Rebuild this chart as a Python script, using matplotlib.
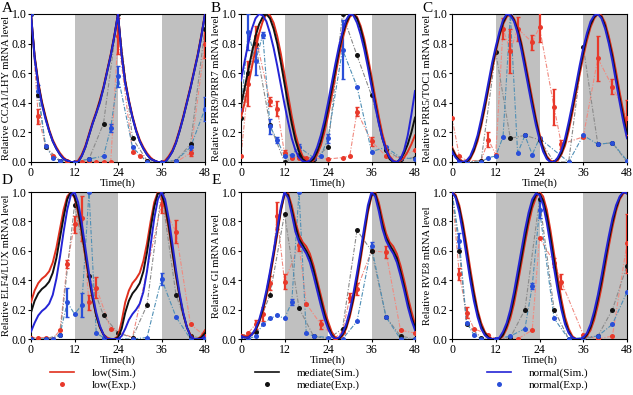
import numpy as np
import matplotlib
matplotlib.use("Agg")
import matplotlib.pyplot as plt
from matplotlib.lines import Line2D

plt.rcParams['font.family'] = ['Liberation Serif', 'DejaVu Serif']

hours = list(range(49))
gene_labels = ["Relative CCA1/LHY mRNA level", "Relative PRR9/PRR7 mRNA level",
               "Relative PRR5/TOC1 mRNA level", "Relative ELF4/LUX mRNA level",
               "Relative GI mRNA level", "Relative RVE8 mRNA level"]
panel_letters = ["A", "B", "C", "D", "E", ""]
x_ticks = [0, 12, 24, 36, 48]
y_ticks = [0.0, 0.2, 0.4, 0.6, 0.8, 1.0]
series_names = ["low", "mediate", "normal"]

# ---------------- simulated curves (hourly) ----------------
simA_low = [1.0,0.72,0.54,0.41,0.31,0.22,0.15,0.1,0.06,0.03,0.01,0.0,0.0,0.01,0.05,0.11,0.19,0.27,0.34,0.42,0.51,0.62,0.73,0.86,1.0,0.74,0.55,0.42,0.31,0.22,0.15,0.1,0.06,0.03,0.01,0.0,0.0,0.01,0.04,0.08,0.14,0.22,0.31,0.41,0.51,0.62,0.73,0.86,1.0]
simA_med = [1.0,0.71,0.53,0.4,0.3,0.21,0.14,0.09,0.05,0.02,0.01,0.0,0.0,0.0,0.04,0.1,0.18,0.26,0.33,0.41,0.5,0.61,0.72,0.85,1.0,0.73,0.54,0.41,0.3,0.21,0.14,0.09,0.05,0.02,0.01,0.0,0.0,0.0,0.03,0.07,0.13,0.21,0.3,0.4,0.5,0.61,0.72,0.85,1.0]
simA_norm = [1.0,0.7,0.52,0.39,0.29,0.21,0.14,0.09,0.05,0.02,0.01,0.0,0.0,0.0,0.04,0.1,0.18,0.26,0.33,0.4,0.5,0.61,0.72,0.85,1.0,0.72,0.53,0.41,0.3,0.21,0.14,0.09,0.05,0.02,0.01,0.0,0.0,0.0,0.03,0.07,0.13,0.21,0.3,0.4,0.5,0.61,0.72,0.85,1.0]

simB_low = [0.30,0.40,0.52,0.64,0.76,0.87,0.95,1.0,0.99,0.94,0.85,0.73,0.59,0.45,0.31,0.19,0.1,0.04,0.01,0.0,0.01,0.05,0.11,0.2,0.31,0.44,0.58,0.71,0.83,0.92,0.98,1.0,0.98,0.92,0.83,0.71,0.58,0.44,0.31,0.19,0.1,0.04,0.01,0.0,0.01,0.03,0.07,0.12,0.18]
simB_med = [0.38,0.5,0.62,0.74,0.85,0.93,0.98,1.0,0.97,0.9,0.8,0.67,0.53,0.39,0.26,0.15,0.07,0.02,0.0,0.0,0.02,0.07,0.14,0.24,0.36,0.49,0.62,0.75,0.86,0.94,0.99,1.0,0.97,0.9,0.8,0.67,0.54,0.4,0.27,0.16,0.08,0.02,0.0,0.0,0.02,0.06,0.12,0.2,0.3]
simB_norm = [0.55,0.68,0.80,0.9,0.97,1.0,0.99,0.95,0.87,0.77,0.65,0.52,0.39,0.27,0.16,0.08,0.03,0.005,0.0,0.01,0.04,0.1,0.18,0.28,0.40,0.53,0.66,0.78,0.88,0.96,1.0,0.99,0.94,0.86,0.76,0.64,0.51,0.38,0.26,0.16,0.08,0.03,0.005,0.0,0.02,0.08,0.18,0.32,0.48]

simC_low = [0.1,0.05,0.02,0.003,0.0,0.02,0.07,0.14,0.24,0.36,0.49,0.62,0.74,0.85,0.93,0.98,1.0,0.97,0.91,0.81,0.69,0.56,0.43,0.3,0.19,0.1,0.04,0.01,0.0,0.01,0.05,0.11,0.21,0.33,0.46,0.59,0.71,0.82,0.91,0.97,1.0,0.99,0.94,0.85,0.74,0.61,0.47,0.34,0.22]
simC_med = [0.09,0.04,0.01,0.0,0.0,0.03,0.08,0.16,0.26,0.38,0.51,0.64,0.76,0.86,0.94,0.99,1.0,0.96,0.89,0.79,0.66,0.53,0.4,0.28,0.17,0.09,0.03,0.0,0.0,0.02,0.06,0.13,0.24,0.36,0.49,0.62,0.74,0.85,0.93,0.98,1.0,0.98,0.92,0.82,0.71,0.57,0.43,0.3,0.19]
simC_norm = [0.07,0.03,0.005,0.0,0.01,0.04,0.1,0.18,0.29,0.41,0.54,0.67,0.78,0.88,0.96,1.0,0.99,0.95,0.87,0.76,0.63,0.5,0.37,0.25,0.15,0.07,0.02,0.0,0.0,0.03,0.08,0.16,0.27,0.39,0.52,0.65,0.77,0.87,0.95,0.99,1.0,0.97,0.9,0.8,0.68,0.54,0.40,0.27,0.16]

simD_low = [0.25,0.33,0.38,0.41,0.43,0.46,0.52,0.62,0.75,0.88,0.97,1.0,0.96,0.86,0.72,0.56,0.41,0.27,0.16,0.08,0.03,0.01,0.0,0.0,0.02,0.12,0.25,0.33,0.38,0.41,0.45,0.53,0.65,0.8,0.93,1.0,0.98,0.89,0.75,0.59,0.43,0.29,0.17,0.08,0.03,0.0,0.0,0.02,0.06]
simD_med = [0.18,0.26,0.31,0.34,0.36,0.39,0.45,0.55,0.69,0.83,0.95,1.0,0.97,0.88,0.74,0.58,0.42,0.28,0.16,0.08,0.03,0.0,0.0,0.0,0.01,0.07,0.18,0.26,0.31,0.34,0.38,0.46,0.59,0.75,0.9,0.99,0.99,0.91,0.77,0.6,0.44,0.29,0.17,0.08,0.02,0.0,0.0,0.01,0.04]
simD_norm = [0.05,0.11,0.16,0.19,0.21,0.24,0.3,0.41,0.56,0.73,0.88,0.98,1.0,0.93,0.79,0.62,0.45,0.3,0.18,0.09,0.03,0.0,0.0,0.0,0.0,0.02,0.07,0.13,0.17,0.2,0.24,0.32,0.46,0.64,0.82,0.95,1.0,0.95,0.82,0.65,0.47,0.31,0.18,0.08,0.02,0.0,0.0,0.0,0.02]

simE_low = [0.03,0.02,0.02,0.03,0.06,0.11,0.19,0.29,0.42,0.56,0.71,0.87,0.98,0.99,0.91,0.8,0.71,0.66,0.63,0.58,0.5,0.4,0.3,0.2,0.12,0.05,0.01,0.0,0.02,0.07,0.15,0.26,0.39,0.54,0.7,0.86,0.97,1.0,0.93,0.82,0.72,0.66,0.63,0.58,0.5,0.4,0.29,0.19,0.1]
simE_med = [0.02,0.01,0.01,0.03,0.06,0.12,0.2,0.31,0.44,0.58,0.73,0.88,0.99,0.98,0.88,0.77,0.68,0.64,0.6,0.55,0.47,0.37,0.27,0.17,0.09,0.03,0.0,0.0,0.03,0.08,0.17,0.28,0.42,0.57,0.73,0.88,0.98,0.99,0.9,0.78,0.69,0.64,0.6,0.55,0.46,0.36,0.25,0.15,0.08]
simE_norm = [0.02,0.01,0.01,0.03,0.07,0.13,0.22,0.33,0.46,0.6,0.75,0.9,1.0,0.96,0.85,0.73,0.66,0.62,0.58,0.52,0.43,0.33,0.23,0.14,0.07,0.02,0.0,0.01,0.04,0.1,0.19,0.31,0.45,0.6,0.76,0.91,1.0,0.97,0.87,0.75,0.67,0.62,0.58,0.52,0.43,0.33,0.22,0.13,0.06]

simF_low = [1.0,0.98,0.91,0.79,0.64,0.48,0.33,0.2,0.11,0.05,0.015,0.0,0.0,0.0,0.02,0.07,0.14,0.24,0.37,0.51,0.65,0.78,0.89,0.96,1.0,0.97,0.88,0.74,0.58,0.42,0.27,0.15,0.07,0.02,0.0,0.0,0.0,0.02,0.06,0.13,0.23,0.35,0.49,0.63,0.76,0.87,0.95,0.99,1.0]
simF_med = [1.0,0.97,0.89,0.76,0.6,0.44,0.3,0.18,0.09,0.04,0.01,0.0,0.0,0.0,0.03,0.09,0.17,0.28,0.41,0.55,0.69,0.82,0.92,0.98,0.99,0.94,0.84,0.69,0.53,0.37,0.23,0.12,0.05,0.01,0.0,0.0,0.0,0.03,0.08,0.16,0.27,0.39,0.53,0.67,0.79,0.89,0.96,1.0,0.99]
simF_norm = [1.0,0.96,0.86,0.72,0.56,0.4,0.26,0.15,0.07,0.025,0.005,0.0,0.0,0.01,0.05,0.11,0.2,0.32,0.46,0.6,0.74,0.86,0.95,0.99,0.98,0.91,0.79,0.64,0.48,0.33,0.2,0.1,0.04,0.01,0.0,0.0,0.01,0.04,0.1,0.19,0.3,0.43,0.57,0.7,0.82,0.91,0.97,1.0,0.99]

# ---------------- experimental data ----------------
expA_low_t = [0,2,4,6,8,10,12,14,16,18,20,22,24,28,30,32,36,40,44,48]
expA_low = [1.0,0.31,0.11,0.04,0.01,0.01,0.0,0.0,0.0,0.0,0.0,0.0,0.85,0.07,0.04,0.01,0.0,0.0,0.06,0.80]
expA_low_err = [0,0.05,0,0,0,0,0,0,0,0,0,0,0.12,0,0,0,0,0,0.02,0.1]
expA_med_t = [0,2,4,8,12,16,20,24,28,32,36,40,44,48]
expA_med = [1.0,0.45,0.1,0.01,0.0,0.02,0.26,1.0,0.16,0.01,0.0,0.01,0.12,0.9]
expA_norm_t = [0,2,4,6,8,12,16,20,22,24,28,32,36,40,44,48]
expA_norm = [1.0,0.48,0.11,0.03,0.01,0.0,0.02,0.04,0.23,0.58,0.10,0.0,0.0,0.01,0.10,0.36]
expA_norm_err = [0,0.04,0,0,0,0,0,0,0.03,0.07,0,0,0,0,0.03,0.08]

expB_low_t = [0,2,4,8,10,12,14,16,18,24,28,30,32,36,40,44,48]
expB_low = [0.04,0.53,0.85,0.41,0.36,0.06,0.03,0.03,0.03,0.02,0.03,0.04,0.34,0.14,0.04,0.03,0.08]
expB_low_err = [0,0.15,0.07,0.03,0.05,0.02,0,0,0,0,0,0,0.03,0.03,0,0,0]
expB_med_t = [0,2,4,8,12,16,20,24,28,32,36,40,44,48]
expB_med = [0.3,0.6,0.8,0.25,0.0,0.05,0.02,0.1,1.0,0.72,0.45,0.08,0.02,0.03]
expB_norm_t = [0,2,4,6,8,10,12,14,16,20,22,24,28,32,36,40,44,48]
expB_norm = [0.35,0.88,0.68,0.86,0.24,0.15,0.04,0.05,0.1,0.03,0.04,0.16,0.76,0.51,0.07,0.1,0.03,0.02]
expB_norm_err = [0,0.12,0.09,0.02,0.05,0.02,0,0,0.02,0,0,0.03,0.2,0,0,0,0,0]

expC_low_t = [0,2,4,8,10,12,14,16,18,22,24,28,30,36,40,44,48]
expC_low = [0.30,0.04,0.01,0.01,0.15,0.05,0.90,0.75,0.90,0.81,0.91,0.37,0.12,0.17,0.70,0.51,0.30]
expC_low_err = [0,0,0,0,0.05,0,0.07,0.15,0.08,0.05,0.1,0.12,0.03,0,0.15,0.05,0.12]
expC_med_t = [0,2,4,8,12,16,20,24,28,32,36,40,44,48]
expC_med = [0.07,0.01,0.0,0.01,0.74,0.16,0.18,0.15,0.0,0.0,0.78,0.12,0.13,0.0]
expC_norm_t = [0,2,4,8,10,12,14,16,18,20,22,24,32,36,40,44,48]
expC_norm = [0.07,0.01,0.0,0.0,0.03,0.04,0.17,1.0,0.06,0.18,0.05,0.16,0.0,0.18,0.12,0.13,0.01]
expC_norm_err = [0]*17

expD_low_t = [0,2,4,6,8,10,12,14,16,18,22,28,36,40,44,48]
expD_low = [0.01,0.01,0.01,0.0,0.06,0.51,0.78,0.82,0.25,0.35,0.07,0.01,0.92,0.73,0.10,0.02]
expD_low_err = [0,0,0,0,0,0.03,0.06,0.15,0.05,0.07,0,0,0.06,0.08,0,0]
expD_med_t = [0,4,8,12,16,20,24,28,32,36,40,44,48]
expD_med = [0.0,0.0,0.03,0.91,0.43,0.16,0.04,0.01,0.23,1.0,0.3,0.02,0.0]
expD_norm_t = [0,4,6,8,10,12,14,16,18,20,24,28,32,36,40,44,48]
expD_norm = [0.0,0.0,0.0,0.03,0.25,0.17,0.23,1.0,0.04,0.01,0.0,0.0,0.01,0.41,0.15,0.0,0.0]
expD_norm_err = [0,0,0,0,0.1,0,0.08,0,0,0,0,0,0,0.04,0,0,0]

expE_low_t = [0,2,4,6,8,10,12,16,18,22,26,28,30,32,36,40,44,48]
expE_low = [0.02,0.04,0.1,0.17,0.38,0.84,0.39,0.64,0.24,0.1,0.01,0.05,0.28,0.34,0.6,0.59,0.06,0.04]
expE_low_err = [0,0,0.03,0.05,0.05,0.09,0.05,0.04,0,0.03,0,0,0.03,0.04,0,0.04,0,0]
expE_med_t = [0,4,8,12,16,20,24,28,32,36,40,44,48]
expE_med = [0.02,0.05,0.3,0.85,0.21,0.02,0.0,0.07,0.74,0.6,0.15,0.02,0.0]
expE_norm_t = [0,2,4,6,8,10,12,14,16,18,20,24,28,32,36,40,44,48]
expE_norm = [0.02,0.0,0.02,0.1,0.14,0.16,0.14,0.25,1.0,0.04,0.02,0.01,0.0,0.12,0.63,0.15,0.0,0.0]
expE_norm_err = [0,0,0,0,0,0,0,0.02,0,0,0,0,0,0,0.03,0,0,0]

expF_low_t = [0,2,4,6,10,12,18,22,24,28,30,36,40,44,48]
expF_low = [1.0,0.44,0.18,0.07,0.03,0.0,0.0,0.06,0.69,0.52,0.39,0.03,0.0,0.02,0.65]
expF_low_err = [0,0.04,0.04,0,0,0,0,0,0,0.03,0.05,0,0,0,0.2]
expF_med_t = [0,2,4,8,12,16,20,24,28,32,36,40,44,48]
expF_med = [1.0,0.6,0.1,0.01,0.0,0.01,0.2,0.95,0.2,0.0,0.0,0.02,0.2,0.5]
expF_norm_t = [0,2,4,6,8,12,16,20,22,24,28,32,36,40,44,48]
expF_norm = [1.0,0.67,0.11,0.03,0.0,0.0,0.02,0.07,0.36,0.88,0.14,0.0,0.01,0.02,0.1,0.32]
expF_norm_err = [0,0.05,0,0,0,0,0,0,0.02,0.06,0,0,0,0,0,0]

sims = [(simA_low, simA_med, simA_norm), (simB_low, simB_med, simB_norm),
        (simC_low, simC_med, simC_norm), (simD_low, simD_med, simD_norm),
        (simE_low, simE_med, simE_norm), (simF_low, simF_med, simF_norm)]
exps = [
    [(expA_low_t, expA_low, expA_low_err), (expA_med_t, expA_med, None), (expA_norm_t, expA_norm, expA_norm_err)],
    [(expB_low_t, expB_low, expB_low_err), (expB_med_t, expB_med, None), (expB_norm_t, expB_norm, expB_norm_err)],
    [(expC_low_t, expC_low, expC_low_err), (expC_med_t, expC_med, None), (expC_norm_t, expC_norm, expC_norm_err)],
    [(expD_low_t, expD_low, expD_low_err), (expD_med_t, expD_med, None), (expD_norm_t, expD_norm, expD_norm_err)],
    [(expE_low_t, expE_low, expE_low_err), (expE_med_t, expE_med, None), (expE_norm_t, expE_norm, expE_norm_err)],
    [(expF_low_t, expF_low, expF_low_err), (expF_med_t, expF_med, None), (expF_norm_t, expF_norm, expF_norm_err)],
]

sim_colors = ['#e0301e', '#111111', '#2424d6']
dot_colors = ['#e8392b', '#111111', '#2a4fd8']
dash_colors = ['#f08a80', '#8a8a8a', '#4f8fb5']
shade = '#c0c0c0'

W, H = 633, 395
fig = plt.figure(figsize=(W / 100, H / 100), dpi=100)

lefts = [31, 241, 452]
widths = [174, 174, 175]
rows = [(14, 162), (192, 339)]
label_x = [11, 221, 432]
letter_pos = [(2, 9), (211, 9), (422, 9), (2, 181), (212, 181), (422, 181)]
FS = 8.0
YFS = 7.6

for i in range(6):
    r, c = divmod(i, 3)
    top, bot = rows[r]
    ax = fig.add_axes([lefts[c] / W, 1 - bot / H, widths[c] / W, (bot - top) / H])
    ax.axvspan(12, 24, color=shade, lw=0, zorder=0)
    ax.axvspan(36, 48, color=shade, lw=0, zorder=0)
    for k in range(3):
        t, v, e = exps[i][k]
        ax.plot(t, v, color=dash_colors[k], lw=0.8, ls=(0, (4, 1.5, 1, 1.5)), zorder=2)
        if e is not None:
            ax.errorbar(t, v, yerr=e, fmt='none', ecolor=dot_colors[k], elinewidth=1.6,
                        capsize=1.5, capthick=1.0, zorder=3)
        ax.plot(t, v, 'o', color=dot_colors[k], ms=3.6, mew=0, zorder=4)
    for k in range(3):
        ax.plot(hours, sims[i][k], color=sim_colors[k], lw=1.4, zorder=5)
    ax.set_xlim(0, 48)
    ax.set_ylim(0, 1.0)
    ax.set_xticks(x_ticks)
    ax.set_yticks(y_ticks)
    ax.set_yticklabels(["%.1f" % y for y in y_ticks])
    ax.tick_params(labelsize=8.6, length=2.5, width=0.8, pad=0.8)
    for s in ax.spines.values():
        s.set_linewidth(0.8)
    ax.set_xlabel("Time(h)", fontsize=FS, labelpad=-0.3)
    ax.set_ylabel(gene_labels[i], fontsize=YFS)
    ax.yaxis.set_label_coords((label_x[c] - lefts[c]) / widths[c], 0.5)
    lx, ly = letter_pos[i]
    if panel_letters[i]:
        fig.text(lx / W, 1 - ly / H, panel_letters[i], fontsize=11, va='center', ha='left')

# legends
leg_left = [50, 255, 487]
for k in range(3):
    h1 = Line2D([], [], color=sim_colors[k], lw=1.2)
    h2 = Line2D([], [], color=dot_colors[k], marker='o', ls='none', ms=3.6, mew=0)
    fig.legend([h1, h2], [series_names[k] + "(Sim.)", series_names[k] + "(Exp.)"],
               loc='center left', bbox_to_anchor=(leg_left[k] / W, 1 - 379 / H),
               frameon=False, fontsize=FS, handlelength=2.2, handletextpad=1.6,
               labelspacing=0.22, borderpad=0, borderaxespad=0)

fig.savefig("out.png", dpi=100)
